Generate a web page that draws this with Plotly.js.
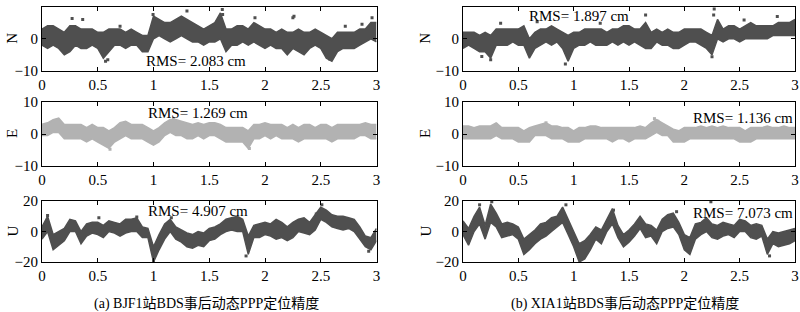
<!DOCTYPE html>
<html>
<head>
<meta charset="utf-8">
<script src="https://cdn.plot.ly/plotly-3.0.1.min.js"></script>
<style>html,body{margin:0;padding:0;background:#fff;}#chart{width:800px;height:312px;}</style>
</head>
<body>
<div id="chart"></div>
<script>
// time in hours
const hours = [0,0.05,0.1,0.15,0.2,0.25,0.3,0.35,0.4,0.45,0.5,0.55,0.6,0.65,0.7,0.75,0.8,0.85,0.9,0.95,1,1.05,1.1,1.15,1.2,1.25,1.3,1.35,1.4,1.45,1.5,1.55,1.6,1.65,1.7,1.75,1.8,1.85,1.9,1.95,2,2.05,2.1,2.15,2.2,2.25,2.3,2.35,2.4,2.45,2.5,2.55,2.6,2.65,2.7,2.75,2.8,2.85,2.9,2.95,3];

// BJF1 station: lower / upper envelope of the error band (cm)
const bjf1N_lo = [-2,-3,-2,-3,-5,-4,-2,-3,-3,-2, -3,-6,-4,-2,-2,-3,-2,-2,-4,-4, 0,1,0,-1,0,1,0,-1,-1,-2, -1,-1,0,-4,-2,-2,-1,-2,-1,-2, -3,-2,-3,-3,-5,-3,-4,-5,-3,-2, -3,-6,-7,-4,-3,-3,-3,-2,-1,0, -1];
const bjf1N_hi = [3,4,4,3,2,4,4,3,3,3, 2,2,3,3,3,2,3,2,1,1, 7,6,5,5,6,7,6,5,4,3, 4,5,8,3,3,4,4,3,5,4, 3,3,2,3,2,2,3,2,2,3, 2,1,0,2,2,2,2,3,3,5, 5];
const bjf1E_lo = [-0.5,-0.5,0.5,0.5,-1.5,-1.5,-1.5,-1.5,-2.5,-1.5, -2.5,-3.5,-4.5,-2.5,-1.5,-0.5,-1.5,-1.5,-1.5,-2.5, -3.5,-2.5,-0.5,0.5,-0.5,-0.5,-1.5,-1.5,-0.5,-1.5, -0.5,-0.5,-1.5,-2.5,-2.5,-2.5,-2.5,-4.5,-1.5,-1.5, -0.5,-1.5,-0.5,-1.5,-1.5,-1.5,-2.5,-1.5,-1.5,-1.5, -1.5,-1.5,-2.5,-1.5,-1.5,-1.5,-1.5,-0.5,-0.5,-1.5, -1.5];
const bjf1E_hi = [3,3.5,4.5,5,3,3,3,3,2,3, 2,2,1,2,3.5,4,3,3,3,2, 1,2,3.5,4.5,4.5,4,3.5,3,3.5,3, 3.5,3.5,3,2,2,2,2,1,3,3, 3.5,3,3,3,2,3,2,3,3,2, 3,3,2,3,3,3,3,3,3.5,3, 3];
const bjf1U_lo = [-5,0,-12,-9,-6,0,0,-8,-3,-1, -2,-4,0,-1,-3,-1,0,0,-4,-4, -20,-12,-5,0,-5,-7,-10,-11,-9,-10, -6,-5,-2,0,1,0,0,-15,-4,-4, -2,-3,-5,-4,-6,-4,0,-1,-2,1, 8,6,3,2,1,2,0,-5,-10,-12, -6];
const bjf1U_hi = [3,10,-2,0,2,8,7,0,5,6, 6,4,7,6,5,8,8,9,3,2, -10,-2,5,8,3,1,-1,-2,0,-1, 2,3,5,8,9,10,8,-3,4,5, 6,5,8,6,3,6,8,9,6,11, 16,14,11,10,10,9,8,3,-3,-4, 2];

// XIA1 station
const xia1N_lo = [-3,-2,-3,-4,-4,-6,-2,-2,-2,-1, -2,-2,-6,-3,-2,-1,-2,-1,-3,-7, -3,-2,-2,-1,-2,-2,-2,-1,-2,-1, -2,-1,-2,-3,-3,-1,-2,-2,-3,-3, -2,-1,-1,-2,-3,-5,0,-1,0,0, -1,0,0,0,0,0,1,1,1,1, 1];
const xia1N_hi = [2,2,2,1,2,1,3,3,3,3, 3,4,0,2,3,3,4,3,2,1, 2,2,3,3,3,3,2,3,3,4, 4,3,3,5,2,3,2,3,2,2, 3,3,3,3,2,1,6,3,4,4, 3,4,5,4,4,4,4,5,5,5, 6];
const xia1E_lo = [-1.5,-1.5,-1.5,-1.5,-1.5,-1.5,-0.5,-1.5,-1.5,-1.5, -2.5,-2.5,-2.5,-0.5,-0.5,-0.5,-1.5,-1.5,-1.5,-2.5, -2.5,-2.5,-1.5,-1.5,-1.5,-1.5,-1.5,-2.5,-1.5,-1.5, -2.5,-1.5,-1.5,-1.5,-0.5,0.5,-0.5,-0.5,-2.5,-2.5, -2.5,-1.5,-1.5,-1.5,-1.5,-1.5,-1.5,-1.5,-1.5,-1.5, -2.5,-2.5,-2.5,-1.5,-1.5,-1.5,-1.5,-1.5,-1.5,-1.5, -1.5];
const xia1E_hi = [2.5,2.5,2,2.5,2.5,2.5,3.5,2,2,2, 2,1,2,2.5,3,3.5,2.5,2.5,2,2, 1,2,2,2.5,2.5,2,2,2,2,2, 2,2,2.5,2,3.5,4.5,3.5,2.5,1.5,1, 2,2,2,2.5,2,2.5,2,2.5,2,2, 2,1,2,2,2,2.5,2,2,2.5,2, 2];
const xia1U_lo = [-2,-9,0,5,-5,6,3,-4,-3,-2, -5,-15,-12,-8,-5,-3,0,3,6,-2, -10,-20,-18,-12,-5,-8,0,5,-4,-10, -7,-3,2,-4,-3,-8,0,2,3,-2, -12,-15,-5,-2,0,-4,-5,-3,-2,-4, 0,0,-4,-5,-3,-15,-8,-10,-9,-8, -6];
const xia1U_hi = [7,2,10,16,4,18,12,5,6,5, 3,-5,-2,1,5,6,9,10,16,8, 0,-8,-6,-2,3,1,8,15,4,-2, 1,5,10,5,4,1,8,11,12,6, -2,-4,5,6,9,5,4,6,5,4, 8,7,4,5,4,-5,0,-1,0,1, 2];

// isolated epochs outside the main band: [hour, cm]
const bjf1N_out_t = [0.27,0.365,0.70,0.996,1.30,1.617,1.62,1.91,2.25,2.26,2.58,2.72,2.87,2.96,0.57,0.59];
const bjf1N_out_v = [6.3,6,3.9,7.5,8.6,9.1,7.5,6.5,6.5,7,-6.3,3.9,4.5,6.5,-7,-6.5];
const bjf1E_out_t = [0.61,1.18,1.86];
const bjf1E_out_v = [-4.8,4.8,-4.5];
const bjf1U_out_t = [0.05,0.51,0.85,1.0,1.16,1.83,2.46,2.51,2.93];
const bjf1U_out_v = [10.5,9,9.5,-19,9,-16,11.5,17.5,-13];
const xia1N_out_t = [0.34,0.67,0.925,1.24,1.65,2.25,2.265,2.27,2.54,2.84,0.17,0.25];
const xia1N_out_v = [4.8,5.3,-7.8,4.8,7.4,-5.6,7.4,9.2,5.8,6.9,-5.5,-6.5];
const xia1E_out_t = [0.3,0.75,1.73,1.76];
const xia1E_out_v = [3,3.5,4.8,4];
const xia1U_out_t = [0.15,0.26,0.93,1.36,1.93,2.24,2.77];
const xia1U_out_v = [17.5,19.5,17.5,14,13,19.5,-16];

const compLabels = ['N','E','U'];
const rmsLabels = ['RMS= 2.083 cm','RMS= 1.269 cm','RMS= 4.907 cm','RMS= 1.897 cm','RMS= 1.136 cm','RMS= 7.073 cm'];
const captions = ['(a) BJF1站BDS事后动态PPP定位精度','(b) XIA1站BDS事后动态PPP定位精度'];
const xTicks = [0,0.5,1,1.5,2,2.5,3];
const yTicksNE = [-10,0,10];
const yTicksU = [-20,0,20];

const series = [
  [bjf1N_lo,bjf1N_hi,bjf1N_out_t,bjf1N_out_v],[bjf1E_lo,bjf1E_hi,bjf1E_out_t,bjf1E_out_v],[bjf1U_lo,bjf1U_hi,bjf1U_out_t,bjf1U_out_v],
  [xia1N_lo,xia1N_hi,xia1N_out_t,xia1N_out_v],[xia1E_lo,xia1E_hi,xia1E_out_t,xia1E_out_v],[xia1U_lo,xia1U_hi,xia1U_out_t,xia1U_out_v]
];

const W = 800, H = 312;
const colX = [[42,376.5],[463,795]];
const rowY = [[6.5,71],[102,166],[201,262]];
const dark = '#4f4f4f', light = '#b2b2b2';
const serif = "'Liberation Serif', 'Times New Roman', serif";
const capFont = "'Liberation Serif', 'Noto Sans CJK SC', serif";

const data = [];
const layout = {
  width: W, height: H, margin:{l:0,r:0,t:0,b:0},
  paper_bgcolor:'#fff', plot_bgcolor:'#fff', showlegend:false,
  font:{family:serif, size:15, color:'#000'},
  annotations: []
};
function P(x,y){return {x:x/W, y:1-y/H, xref:'paper', yref:'paper'};}

const rmsPos = [[196,61],[198,112.5],[198,210.5],[579,15.5],[743,117.5],[743,212.5]];
const labelX = [12,425];

for (let k=0;k<6;k++){
  const col = Math.floor(k/3), row = k%3;
  const n = k+1;
  const xa = 'x'+(n===1?'':n), ya = 'y'+(n===1?'':n);
  const color = row===1 ? light : dark;
  data.push({x:hours, y:series[k][0], xaxis:xa, yaxis:ya, mode:'lines', line:{color:color,width:1.5}, hoverinfo:'skip'});
  data.push({x:hours, y:series[k][1], xaxis:xa, yaxis:ya, mode:'lines', line:{color:color,width:1.5}, fill:'tonexty', fillcolor:color, hoverinfo:'skip'});
  data.push({x:series[k][2], y:series[k][3], xaxis:xa, yaxis:ya, mode:'markers', marker:{color:color,size:3,symbol:'square'}, hoverinfo:'skip'});
  const axCommon = {showgrid:false, zeroline:false, showline:true, mirror:'ticks', linecolor:'#000', linewidth:1,
    ticks:'inside', ticklen:4, tickcolor:'#000', tickfont:{family:serif,size:15,color:'#000'}, fixedrange:true};
  layout['xaxis'+(n===1?'':n)] = Object.assign({}, axCommon, {
    domain:[colX[col][0]/W, colX[col][1]/W], anchor:ya, range:[0,3], tickvals:xTicks, ticktext:xTicks.map(String)});
  const yt = row===2 ? yTicksU : yTicksNE;
  layout['yaxis'+(n===1?'':n)] = Object.assign({}, axCommon, {
    domain:[1-rowY[row][1]/H, 1-rowY[row][0]/H], anchor:xa, range:[yt[0],yt[2]], tickvals:yt});
  layout.annotations.push(Object.assign(P(rmsPos[k][0], rmsPos[k][1]), {text:rmsLabels[k], showarrow:false, xanchor:'center', yanchor:'middle', font:{family:serif,size:15,color:'#000'}}));
  layout.annotations.push(Object.assign(P(labelX[col], (rowY[row][0]+rowY[row][1])/2), {text:compLabels[row], textangle:-90, showarrow:false, xanchor:'center', yanchor:'middle', font:{family:serif,size:15,color:'#000'}}));
}
layout.annotations.push(Object.assign(P(206,304), {text:captions[0], showarrow:false, xanchor:'center', yanchor:'middle', font:{family:capFont,size:14,color:'#000'}}));
layout.annotations.push(Object.assign(P(625,304), {text:captions[1], showarrow:false, xanchor:'center', yanchor:'middle', font:{family:capFont,size:14,color:'#000'}}));

Plotly.newPlot('chart', data, layout, {staticPlot:true, displayModeBar:false});
</script>
</body>
</html>
